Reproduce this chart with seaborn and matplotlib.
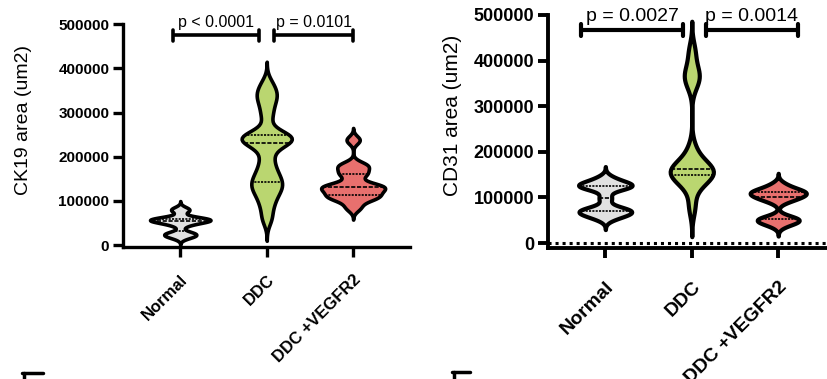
import numpy as np
import pandas as pd
import matplotlib
matplotlib.use("Agg")
import matplotlib.pyplot as plt
from matplotlib.lines import Line2D
import seaborn as sns

groups = ["Normal", "DDC", "DDC +VEGFR2"]
colors = ["#e1e1e1", "#bad670", "#e8706e"]

# CK19 area (um2)
ck19_normal = [18000, 22000, 25000, 28000, 45000, 52000, 54000, 56000, 57000, 58000,
               60000, 62000, 78000, 82000]
ck19_ddc = [60000, 88000, 108000, 122000, 132000, 140000, 150000, 162000, 178000, 200000,
            226000, 236000, 238000, 241000, 244000, 247000, 250000, 290000, 315000, 335000,
            345000, 365000]
ck19_vegfr2 = [85000, 102000, 108000, 111000, 116000, 124000, 128000, 132000, 134000, 138000,
               158000, 165000, 178000, 182000, 238000]

# CD31 area (um2)
cd31_normal = [55000, 62000, 66000, 70000, 72000, 76000, 98000, 120000, 123000, 126000,
               128000, 132000, 142000]
cd31_ddc = [80000, 125000, 140000, 146000, 150000, 155000, 160000, 163000, 168000, 175000,
            205000, 350000, 365000, 380000, 420000]
cd31_vegfr2 = [40000, 47000, 50000, 52000, 56000, 92000, 98000, 102000, 106000, 109000,
               112000, 114000, 118000, 128000]

yticks = [0, 100000, 200000, 300000, 400000, 500000]

ck19_pvals = ["p < 0.0001", "p = 0.0101"]
cd31_pvals = ["p = 0.0027", "p = 0.0014"]

sns.set_theme(style="ticks")
plt.rcParams['font.family'] = ['Liberation Sans', 'DejaVu Sans']
for k in ["text.color", "axes.labelcolor", "xtick.color", "ytick.color", "axes.edgecolor"]:
    plt.rcParams[k] = "black"

fig = plt.figure(figsize=(8.27, 3.79), dpi=100)
ax1 = fig.add_axes([0.149, 0.348, 0.347, 0.588])
ax2 = fig.add_axes([0.663, 0.3456, 0.347, 0.615])


def draw(ax, datasets, widths, bws, lw):
    for i, (vals, w, bw) in enumerate(zip(datasets, widths, bws)):
        df = pd.DataFrame({"g": [groups[i]] * len(vals), "v": vals})
        sns.violinplot(data=df, x="g", y="v", order=groups, ax=ax, color=colors[i],
                       width=w, bw_adjust=bw, cut=3, inner="quart", linewidth=lw,
                       linecolor="black", inner_kws=dict(linewidth=1.2),
                       saturation=1, density_norm="width")


def style(ax, ylabel, ymin, tick_fs, lab_fs, xt_fs, lw, labcoords, xpad):
    ax.set_ylim(ymin, 500000)
    ax.set_xlim(-0.66, 2.66)
    ax.set_yticks(yticks)
    ax.set_yticklabels([str(t) for t in yticks], fontsize=tick_fs, fontweight="bold")
    ax.set_xticks(range(3))
    ax.set_xticklabels(groups, rotation=45, ha="right", rotation_mode="anchor",
                       fontsize=xt_fs, fontweight="bold")
    ax.set_xlabel("")
    ax.set_ylabel(ylabel, fontsize=lab_fs)
    ax.yaxis.set_label_coords(*labcoords)
    for s in ["top", "right"]:
        ax.spines[s].set_visible(False)
    for s in ["left", "bottom"]:
        ax.spines[s].set_linewidth(lw)
    ax.tick_params(width=lw, length=7, direction="out", pad=3)
    ax.tick_params(axis="x", pad=xpad)


def bracket(ax, x0, x1, y, h, text, fs, lw):
    ax.plot([x0, x1], [y, y], color="black", lw=lw, clip_on=False, solid_capstyle="butt")
    ax.plot([x0, x0], [y - h, y + h], color="black", lw=lw, clip_on=False)
    ax.plot([x1, x1], [y - h, y + h], color="black", lw=lw, clip_on=False)
    ax.text((x0 + x1) / 2, y + h * 0.9, text, ha="center", va="bottom", fontsize=fs,
            clip_on=False)


draw(ax1, [ck19_normal, ck19_ddc, ck19_vegfr2], [0.7, 0.58, 0.74], [0.5, 0.36, 0.4], 2.6)
style(ax1, "CK19 area (um2)", -4500, 11, 14, 12, 2.4, (-0.317, 0.57), 11)
bracket(ax1, -0.08, 0.91, 475000, 13000, ck19_pvals[0], 11.5, 2.6)
bracket(ax1, 1.09, 2.0, 475000, 13000, ck19_pvals[1], 11.5, 2.6)

draw(ax2, [cd31_normal, cd31_ddc, cd31_vegfr2], [0.62, 0.5, 0.65], [0.45, 0.35, 0.45], 3.0)
style(ax2, "CD31 area (um2)", -11000, 13, 15, 14, 2.8, (-0.30, 0.571), 15)
ax2.axhline(0, ls=(0, (1, 1.3)), lw=2.2, color="black", zorder=0)
bracket(ax2, -0.28, 0.9, 467000, 13000, cd31_pvals[0], 14, 3.0)
bracket(ax2, 1.16, 2.23, 467000, 13000, cd31_pvals[1], 14, 3.0)

# partial axes of panels below
fig.add_artist(Line2D([22 / 827, 43 / 827], [1 - 373 / 379] * 2, color="black", lw=2.5))
fig.add_artist(Line2D([24 / 827, 24 / 827], [1 - 373 / 379, 0], color="black", lw=2.5))
fig.add_artist(Line2D([452 / 827, 470 / 827], [1 - 372 / 379] * 2, color="black", lw=2.5))
fig.add_artist(Line2D([454 / 827, 454 / 827], [1 - 372 / 379, 0], color="black", lw=2.5))

fig.savefig("out.png", dpi=100)
